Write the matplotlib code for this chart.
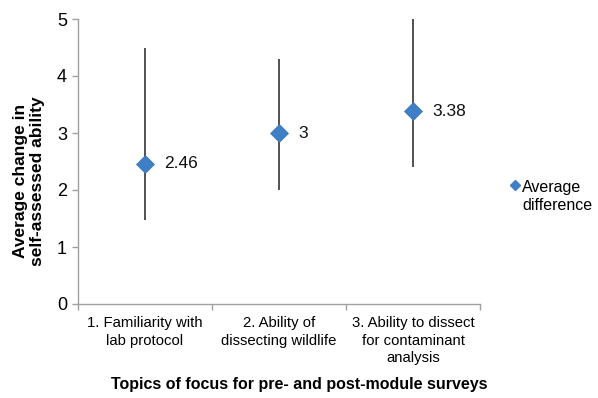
import matplotlib
matplotlib.use("Agg")
import matplotlib.pyplot as plt
from matplotlib.lines import Line2D
import numpy as np

plt.rcParams['font.family'] = ['Liberation Sans', 'DejaVu Sans']

categories = ["1. Familiarity with\nlab protocol",
              "2. Ability of\ndissecting wildlife",
              "3. Ability to dissect\nfor contaminant\nanalysis"]
averages = [2.46, 3.0, 3.38]
value_labels = ["2.46", "3", "3.38"]
range_low = [1.47, 2.0, 2.4]
range_high = [4.5, 4.3, 5.0]
y_ticks = [0, 1, 2, 3, 4, 5]
series_name = "Average\ndifference"

W, H = 598, 398
fig = plt.figure(figsize=(W / 100, H / 100), dpi=100)
ax = fig.add_axes([78 / W, 1 - 304 / H, (480 - 78) / W, (304 - 19) / H])

x = np.arange(len(categories)) + 0.5
avg = np.array(averages)
yerr = [avg - np.array(range_low), np.array(range_high) - avg]

marker_color = '#3F7FC6'
ax.errorbar(x, avg, yerr=yerr, fmt='none', ecolor='#222222', elinewidth=1.1,
            capsize=0, zorder=2)
ax.plot(x, avg, linestyle='none', marker='D', markersize=9.5, color=marker_color,
        markeredgecolor='#3A78BD', markeredgewidth=0.5, zorder=3)

for xi, yi, lab in zip(x, averages, value_labels):
    ax.annotate(lab, (xi, yi), xytext=(14, 0), textcoords='offset points',
                ha='left', va='center', fontsize=12.5, color='#111111')

ax.set_xlim(0, len(categories))
ax.set_ylim(0, 5)
ax.set_yticks(y_ticks)
ax.set_yticklabels([str(t) for t in y_ticks], fontsize=13)
ax.set_xticks(np.arange(len(categories) + 1))
ax.set_xticklabels([])
ax.set_xticks(x, minor=True)
ax.set_xticklabels(categories, minor=True, fontsize=10.7, linespacing=1.3)
ax.tick_params(axis='x', which='minor', length=0, pad=9)
ax.tick_params(axis='x', which='major', length=4, color='#A0A0A0', width=1)
ax.tick_params(axis='y', length=4, color='#A0A0A0', width=1, pad=4)

for side in ['top', 'right']:
    ax.spines[side].set_visible(False)
for side in ['left', 'bottom']:
    ax.spines[side].set_color('#A0A0A0')
    ax.spines[side].set_linewidth(1)

fig.text(29 / W, 1 - 181 / H, "Average change in\nself-assessed ability",
         rotation=90, ha='center', va='center', fontsize=12.5,
         fontweight='bold', multialignment='center')
fig.text(0.5, 1 - 385 / H, "Topics of focus for pre- and post-module surveys",
         ha='center', va='center', fontsize=11.5, fontweight='bold')

# legend entry
fig.add_artist(Line2D([515 / W], [1 - 185 / H], transform=fig.transFigure,
                      linestyle='none', marker='D', markersize=5.5,
                      color=marker_color))
fig.text(522 / W, 1 - 180 / H, series_name, ha='left', va='top',
         fontsize=11.5, linespacing=1.25)

fig.savefig("out.png", dpi=100)
